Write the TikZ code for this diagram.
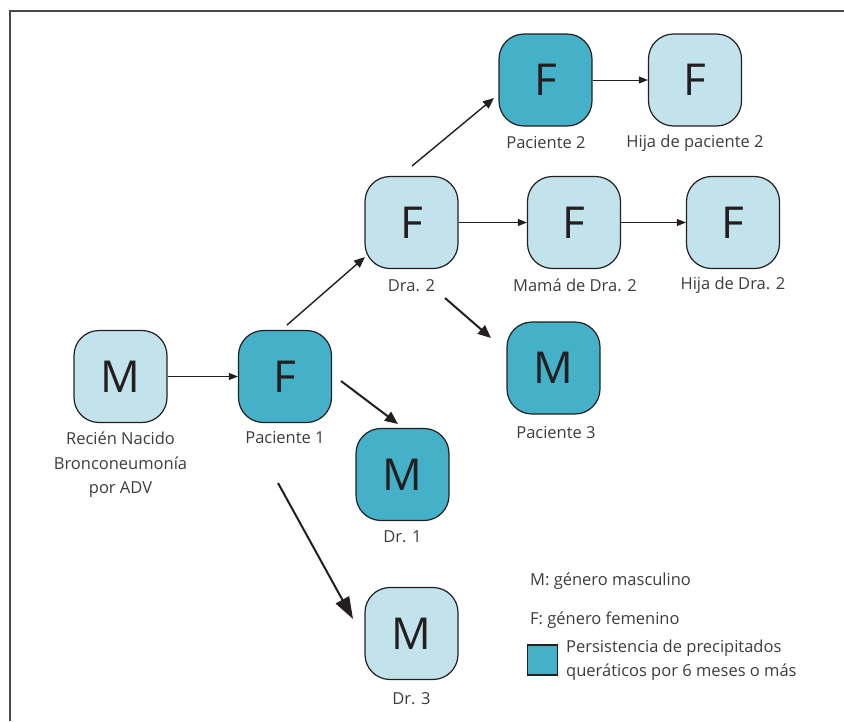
\documentclass[tikz,border=0pt]{standalone}
\usepackage{fontspec}
\setmainfont{Open Sans}
\usetikzlibrary{arrows.meta,calc}
\definecolor{lightc}{HTML}{C2E3EB}
\definecolor{darkc}{HTML}{45B1C9}
\definecolor{ink}{HTML}{231F20}
\definecolor{labc}{HTML}{3C3C3C}
\definecolor{framec}{HTML}{4A4A4A}
\begin{document}
\begin{tikzpicture}[x=1pt,y=-1pt,
  boxbase/.style={draw=ink, line width=1.2pt, rounded corners=25pt,
    minimum width=93pt, minimum height=92pt, inner sep=0pt,
    text=ink, font=\fontsize{44}{44}\selectfont},
  lbox/.style={boxbase, fill=lightc},
  dbox/.style={boxbase, fill=darkc},
  lab/.style={text=labc, font=\fontsize{16.5}{24.5}\selectfont, align=center, inner sep=0pt},
  thin arr/.style={draw=ink, line width=0.9pt, -{Triangle[length=9pt,width=7pt]}},
  mid arr/.style={draw=ink, line width=1.4pt, -{Triangle[length=11pt,width=9pt]}},
  thick arr/.style={draw=ink, line width=2pt, -{Triangle[length=13pt,width=11pt]}},
  big arr/.style={draw=ink, line width=2pt, -{Triangle[length=22pt,width=15pt]}},
]
\useasboundingbox (0,0) rectangle (844,721);
% frame
\draw[framec, line width=1.4pt] (844,11) -- (10,11) -- (10,721);

% nodes
\node[lbox] (rn) at (120.5,376.5) {M};
\node[dbox] (p1) at (285,376.5) {F};
\node[lbox] (d2) at (411.5,222.5) {F};
\node[dbox] (p2) at (545.5,80) {F};
\node[lbox] (h2) at (695,80) {F};
\node[lbox] (m2) at (574,222.5) {F};
\node[lbox] (hd2) at (733,222.5) {F};
\node[dbox] (p3) at (553.5,368) {M};
\node[dbox] (dr1) at (402.5,474.5) {M};
\node[lbox] (dr3) at (411.5,633.5) {M};

% labels
\node[lab] (lrn) at (120.5,465) {Recién Nacido\\Bronconeumonía\\por ADV};
\node[lab] (lp1) at (285,438) {Paciente 1};
\node[lab] (ld2) at (411.5,286) {Dra. 2};
\node[lab] (lp2) at (546,143) {Paciente 2};
\node[lab] (lh2) at (695,143) {Hija de paciente 2};
\node[lab] (lm2) at (575,285) {Mamá de Dra. 2};
\node[lab] (lhd2) at (733,285) {Hija de Dra. 2};
\node[lab] (lp3) at (556,433) {Paciente 3};
\node[lab] (ldr1) at (402.5,537) {Dr. 1};
\node[lab] (ldr3) at (411.5,699) {Dr. 3};

% connector end points
\coordinate (a1s) at (287,325);
\coordinate (a1e) at (365,257);
\coordinate (a2s) at (412,166);
\coordinate (a2e) at (494,98);
\coordinate (a3s) at (445,298);
\coordinate (a3e) at (491,338);
\coordinate (a4s) at (341,381);
\coordinate (a4e) at (398,424);
\coordinate (a5s) at (278,483);
\coordinate (a5e) at (353,619);

% connectors
\draw[thin arr] (rn.east) -- (p1.west);
\draw[thin arr] (d2.east) -- (m2.west);
\draw[thin arr] (p2.east) -- (h2.west);
\draw[thin arr] (m2.east) -- (hd2.west);
\draw[mid arr] (a1s) -- (a1e);
\draw[mid arr] (a2s) -- (a2e);
\draw[thick arr] (a3s) -- (a3e);
\draw[thick arr] (a4s) -- (a4e);
\draw[big arr] (a5s) -- (a5e);

% legend
\node[lab, anchor=west] (lgm) at (530,581) {M: género masculino};
\node[lab, anchor=west] (lgf) at (530,620) {F: género femenino};
\node[draw=ink, line width=1.2pt, fill=darkc, minimum width=30pt, minimum height=30pt, inner sep=0pt] (lgsq) at (542.5,660) {};
\node[lab, anchor=west, align=left] (lgt) at (566,660) {Persistencia de precipitados\\queráticos por 6 meses o más};
\end{tikzpicture}
\end{document}
